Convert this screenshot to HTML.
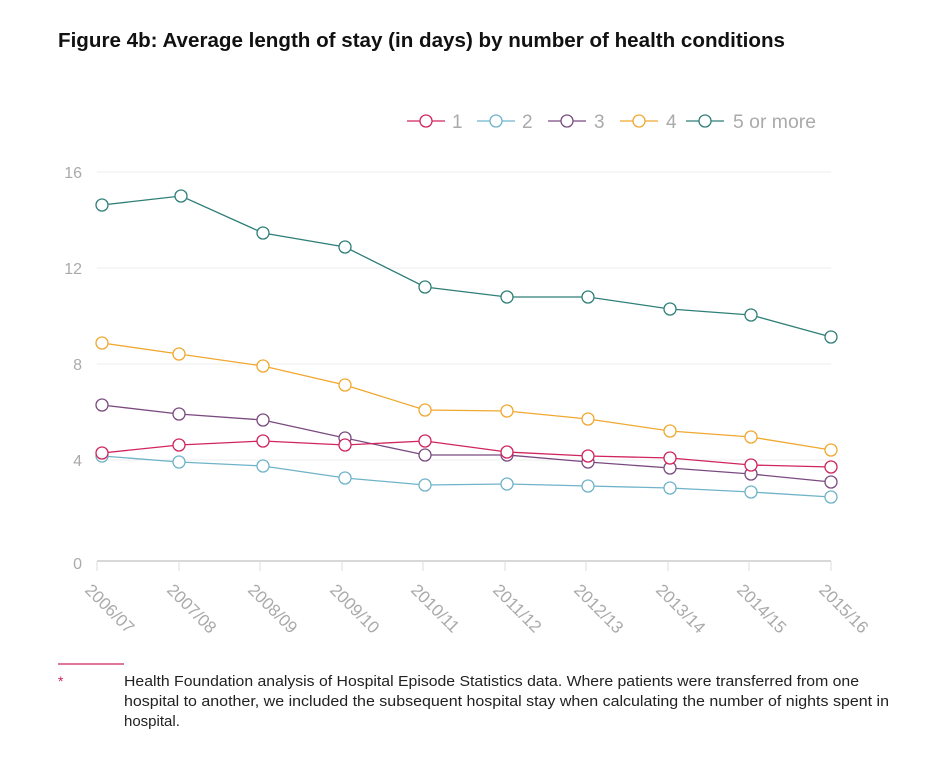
<!DOCTYPE html><html><head><style>body{margin:0;background:#fff;font-family:"Liberation Sans",sans-serif}</style></head><body>
<svg width="937" height="773" xmlns="http://www.w3.org/2000/svg" font-family="Liberation Sans, sans-serif">
<text x="58" y="47" font-size="20" font-weight="bold" fill="#111" textLength="727" lengthAdjust="spacingAndGlyphs">Figure 4b: Average length of stay (in days) by number of health conditions</text>
<g stroke="#eee" stroke-width="1">
<line x1="97" y1="172" x2="831" y2="172"/><line x1="97" y1="268" x2="831" y2="268"/><line x1="97" y1="364" x2="831" y2="364"/><line x1="97" y1="460" x2="831" y2="460"/></g>
<line x1="97" y1="561" x2="831" y2="561" stroke="#ccc" stroke-width="1.5"/>
<g stroke="#ddd"><line x1="97" y1="561" x2="97" y2="571"/><line x1="179" y1="561" x2="179" y2="571"/><line x1="260" y1="561" x2="260" y2="571"/><line x1="342" y1="561" x2="342" y2="571"/><line x1="423" y1="561" x2="423" y2="571"/><line x1="505" y1="561" x2="505" y2="571"/><line x1="586" y1="561" x2="586" y2="571"/><line x1="668" y1="561" x2="668" y2="571"/><line x1="749" y1="561" x2="749" y2="571"/><line x1="831" y1="561" x2="831" y2="571"/></g>
<g fill="#aaa" font-size="16" text-anchor="end"><text x="82" y="178">16</text><text x="82" y="274">12</text><text x="82" y="370">8</text><text x="82" y="466">4</text><text x="82" y="569">0</text></g>
<g fill="#aaa" font-size="17">
<text transform="translate(84,591) rotate(45)">2006/07</text><text transform="translate(166,591) rotate(45)">2007/08</text><text transform="translate(247,591) rotate(45)">2008/09</text><text transform="translate(329,591) rotate(45)">2009/10</text><text transform="translate(410,591) rotate(45)">2010/11</text><text transform="translate(492,591) rotate(45)">2011/12</text><text transform="translate(573,591) rotate(45)">2012/13</text><text transform="translate(655,591) rotate(45)">2013/14</text><text transform="translate(736,591) rotate(45)">2014/15</text><text transform="translate(818,591) rotate(45)">2015/16</text></g>
<g fill="#fff" stroke-width="1.3">
<g stroke="#6fb3c9"><polyline fill="none" points="102,456 179,462 263,466 345,478 425,485 507,484 588,486 670,488 751,492 831,497"/>
<circle cx="102" cy="456" r="6"/><circle cx="179" cy="462" r="6"/><circle cx="263" cy="466" r="6"/><circle cx="345" cy="478" r="6"/><circle cx="425" cy="485" r="6"/><circle cx="507" cy="484" r="6"/><circle cx="588" cy="486" r="6"/><circle cx="670" cy="488" r="6"/><circle cx="751" cy="492" r="6"/><circle cx="831" cy="497" r="6"/></g>
<g stroke="#7a4a80"><polyline fill="none" points="102,405 179,414 263,420 345,438 425,455 507,455 588,462 670,468 751,474 831,482"/>
<circle cx="102" cy="405" r="6"/><circle cx="179" cy="414" r="6"/><circle cx="263" cy="420" r="6"/><circle cx="345" cy="438" r="6"/><circle cx="425" cy="455" r="6"/><circle cx="507" cy="455" r="6"/><circle cx="588" cy="462" r="6"/><circle cx="670" cy="468" r="6"/><circle cx="751" cy="474" r="6"/><circle cx="831" cy="482" r="6"/></g>
<g stroke="#d0245e"><polyline fill="none" points="102,453 179,445 263,441 345,445 425,441 507,452 588,456 670,458 751,465 831,467"/>
<circle cx="102" cy="453" r="6"/><circle cx="179" cy="445" r="6"/><circle cx="263" cy="441" r="6"/><circle cx="345" cy="445" r="6"/><circle cx="425" cy="441" r="6"/><circle cx="507" cy="452" r="6"/><circle cx="588" cy="456" r="6"/><circle cx="670" cy="458" r="6"/><circle cx="751" cy="465" r="6"/><circle cx="831" cy="467" r="6"/></g>
<g stroke="#f0a830"><polyline fill="none" points="102,343 179,354 263,366 345,385 425,410 507,411 588,419 670,431 751,437 831,450"/>
<circle cx="102" cy="343" r="6"/><circle cx="179" cy="354" r="6"/><circle cx="263" cy="366" r="6"/><circle cx="345" cy="385" r="6"/><circle cx="425" cy="410" r="6"/><circle cx="507" cy="411" r="6"/><circle cx="588" cy="419" r="6"/><circle cx="670" cy="431" r="6"/><circle cx="751" cy="437" r="6"/><circle cx="831" cy="450" r="6"/></g>
<g stroke="#2f7f78"><polyline fill="none" points="102,205 181,196 263,233 345,247 425,287 507,297 588,297 670,309 751,315 831,337"/>
<circle cx="102" cy="205" r="6"/><circle cx="181" cy="196" r="6"/><circle cx="263" cy="233" r="6"/><circle cx="345" cy="247" r="6"/><circle cx="425" cy="287" r="6"/><circle cx="507" cy="297" r="6"/><circle cx="588" cy="297" r="6"/><circle cx="670" cy="309" r="6"/><circle cx="751" cy="315" r="6"/><circle cx="831" cy="337" r="6"/></g>
</g>
<g stroke-width="1.3" fill="#fff" font-size="19">
<g stroke="#d0245e"><line x1="407" y1="121" x2="445" y2="121"/><circle cx="426" cy="121" r="6"/></g>
<g stroke="#6fb3c9"><line x1="477" y1="121" x2="515" y2="121"/><circle cx="496" cy="121" r="6"/></g>
<g stroke="#7a4a80"><line x1="548" y1="121" x2="586" y2="121"/><circle cx="567" cy="121" r="6"/></g>
<g stroke="#f0a830"><line x1="620" y1="121" x2="658" y2="121"/><circle cx="639" cy="121" r="6"/></g>
<g stroke="#2f7f78"><line x1="686" y1="121" x2="724" y2="121"/><circle cx="705" cy="121" r="6"/></g>
<g fill="#aaa" stroke="none"><text x="452" y="128">1</text><text x="522" y="128">2</text><text x="594" y="128">3</text><text x="666" y="128">4</text><text x="733" y="128" textLength="83" lengthAdjust="spacingAndGlyphs">5 or more</text></g>
</g>
<line x1="58" y1="664" x2="124" y2="664" stroke="#d0245e" stroke-width="1.3"/>
<text x="58" y="686" fill="#d0245e" font-size="14">*</text>
<g font-size="15" fill="#222"><text x="124" y="686" textLength="735" lengthAdjust="spacingAndGlyphs">Health Foundation analysis of Hospital Episode Statistics data. Where patients were transferred from one</text><text x="124" y="706" textLength="765" lengthAdjust="spacingAndGlyphs">hospital to another, we included the subsequent hospital stay when calculating the number of nights spent in</text><text x="124" y="726">hospital.</text></g>
</svg></body></html>
